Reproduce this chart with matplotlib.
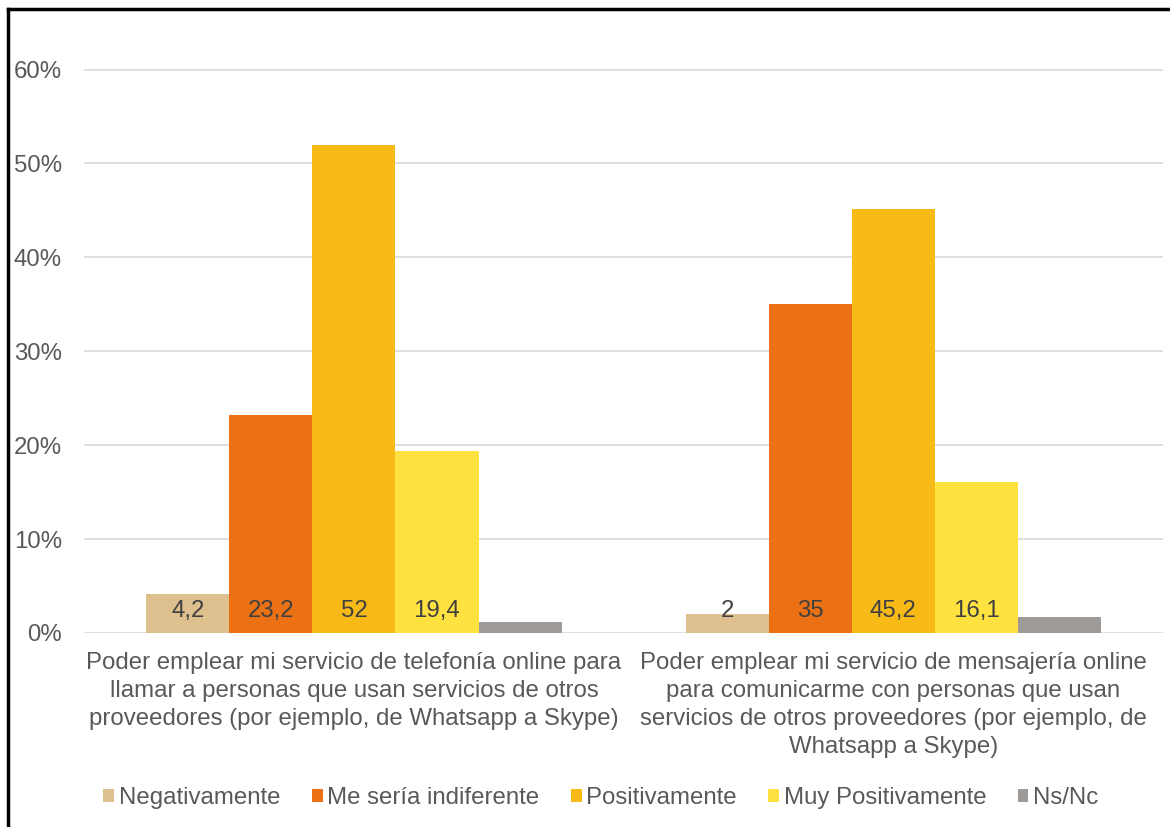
import matplotlib
matplotlib.use("Agg")
import matplotlib.pyplot as plt
from matplotlib.lines import Line2D
from matplotlib.ticker import FuncFormatter
import numpy as np

plt.rcParams['font.family'] = ['Liberation Sans', 'DejaVu Sans']

# --- data ---
categories = [
    "Poder emplear mi servicio de telefonía online para\nllamar a personas que usan servicios de otros\nproveedores (por ejemplo, de Whatsapp a Skype)",
    "Poder emplear mi servicio de mensajería online\npara comunicarme con personas que usan\nservicios de otros proveedores (por ejemplo, de\nWhatsapp a Skype)",
]
series_names = ["Negativamente", "Me sería indiferente", "Positivamente",
                "Muy Positivamente", "Ns/Nc"]
values = [
    [4.2, 2.0],
    [23.2, 35.0],
    [52.0, 45.2],
    [19.4, 16.1],
    [1.2, 1.7],
]
value_labels = [
    ["4,2", "2"],
    ["23,2", "35"],
    ["52", "45,2"],
    ["19,4", "16,1"],
    [None, None],
]
colors = ["#DEC08E", "#EC7014", "#F8BA17", "#FFE240", "#9E9A98"]

FS = 17.3

fig = plt.figure(figsize=(11.7, 8.27), dpi=100)
ax = fig.add_axes([0.072, 0.2346, 0.922, 0.687])

x = np.arange(len(categories))
width = 0.154
for i, (name, vals, col) in enumerate(zip(series_names, values, colors)):
    pos = x + (i - 2) * width
    ax.bar(pos, vals, width=width, color=col, label=name, zorder=3)
    for p, lab in zip(pos, value_labels[i]):
        if lab is not None:
            ax.text(p, 2.3, lab, ha='center', va='center', fontsize=FS,
                    color='#404040', zorder=4)

ax.set_xlim(-0.5, 1.5)
ax.set_ylim(0, 60.5)
ax.set_yticks(np.arange(0, 61, 10))
ax.yaxis.set_major_formatter(FuncFormatter(lambda v, _: f"{int(v)}%"))
ax.grid(axis='y', color='#D9D9D9', linewidth=1.2, zorder=0)
for s in ax.spines.values():
    s.set_visible(False)
ax.tick_params(axis='y', length=0, labelsize=FS, colors='#595959', pad=16)
ax.set_xticks(x)
ax.set_xticklabels(categories, fontsize=FS, color='#595959', linespacing=1.35)
ax.tick_params(axis='x', length=0, colors='#595959', pad=14)

ax.legend(loc='center', bbox_to_anchor=(0.479, -0.29), ncol=5, frameon=False,
          fontsize=FS, labelcolor='#595959', handlelength=0.45, handleheight=0.45,
          handletextpad=0.2, columnspacing=1.3)

# outer frame (top and left edges visible)
fig.add_artist(Line2D([0.007, 1.0], [0.989, 0.989], color='black', lw=2.5,
                      transform=fig.transFigure))
fig.add_artist(Line2D([0.007, 0.007], [0.0, 0.989], color='black', lw=2.5,
                      transform=fig.transFigure))

fig.savefig("out.png", dpi=100)
